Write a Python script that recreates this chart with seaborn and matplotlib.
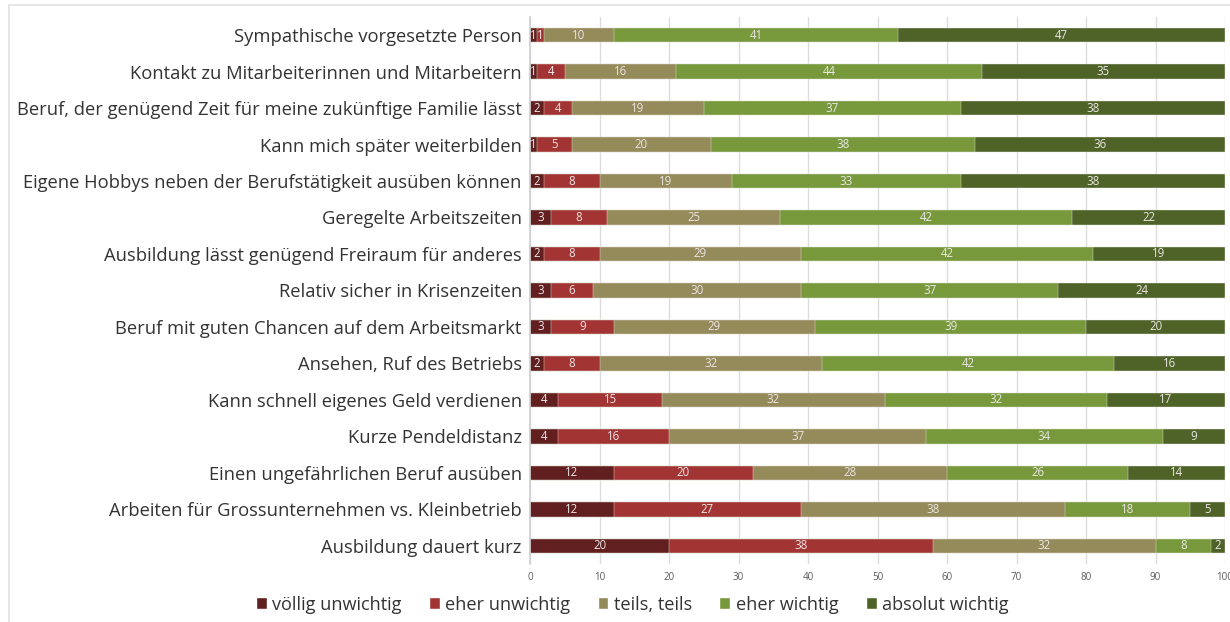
import numpy as np
import pandas as pd
import matplotlib
matplotlib.use("Agg")
import matplotlib.pyplot as plt
import seaborn as sns
from matplotlib.patches import Patch, Rectangle

categories = [
    "Sympathische vorgesetzte Person",
    "Kontakt zu Mitarbeiterinnen und Mitarbeitern",
    "Beruf, der genügend Zeit für meine zukünftige Familie lässt",
    "Kann mich später weiterbilden",
    "Eigene Hobbys neben der Berufstätigkeit ausüben können",
    "Geregelte Arbeitszeiten",
    "Ausbildung lässt genügend Freiraum für anderes",
    "Relativ sicher in Krisenzeiten",
    "Beruf mit guten Chancen auf dem Arbeitsmarkt",
    "Ansehen, Ruf des Betriebs",
    "Kann schnell eigenes Geld verdienen",
    "Kurze Pendeldistanz",
    "Einen ungefährlichen Beruf ausüben",
    "Arbeiten für Grossunternehmen vs. Kleinbetrieb",
    "Ausbildung dauert kurz",
]

levels = ["völlig unwichtig", "eher unwichtig", "teils, teils", "eher wichtig", "absolut wichtig"]

voellig_unwichtig = [1, 1, 2, 1, 2, 3, 2, 3, 3, 2, 4, 4, 12, 12, 20]
eher_unwichtig = [1, 4, 4, 5, 8, 8, 8, 6, 9, 8, 15, 16, 20, 27, 38]
teils_teils = [10, 16, 19, 20, 19, 25, 29, 30, 29, 32, 32, 37, 28, 38, 32]
eher_wichtig = [41, 44, 37, 38, 33, 42, 42, 37, 39, 42, 32, 34, 26, 18, 8]
absolut_wichtig = [47, 35, 38, 36, 38, 22, 19, 24, 20, 16, 17, 9, 14, 5, 2]

colors = ["#61201f", "#a33434", "#958a5a", "#77993c", "#4f6228"]

df = pd.DataFrame({
    "Kategorie": categories,
    levels[0]: voellig_unwichtig,
    levels[1]: eher_unwichtig,
    levels[2]: teils_teils,
    levels[3]: eher_wichtig,
    levels[4]: absolut_wichtig,
})
cum = df[levels].cumsum(axis=1)

sns.set_theme(style="white")
plt.rcParams["font.family"] = ["Open Sans", "DejaVu Sans"]

fig = plt.figure(figsize=(12.3, 6.22), dpi=100)
ax = fig.add_axes([0.431, 0.093, 0.565, 0.88])

# stacked bars: draw cumulative totals from the largest down
for i in range(len(levels) - 1, -1, -1):
    sns.barplot(x=cum[levels[i]], y=df["Kategorie"], color=colors[i],
                width=0.4, saturation=1, ax=ax, orient="h", zorder=3,
                edgecolor="#e8e8e0", linewidth=0.3)

for r, cat in enumerate(categories):
    left = 0
    for i, lv in enumerate(levels):
        v = df.loc[r, lv]
        ax.text(left + v / 2, r, str(v), ha="center", va="center",
                fontsize=8.3, color="#ece6e6", zorder=4)
        left += v

ax.set_xlim(0, 100)
ax.set_xticks(np.arange(0, 101, 10))
ax.tick_params(axis="x", labelsize=7, colors="#595959", length=0, pad=6)
ax.tick_params(axis="y", labelsize=13.2, colors="#333333", length=0, pad=6)
ax.set_xlabel("")
ax.set_ylabel("")
ax.xaxis.grid(True, color="#dcdcdc", linewidth=1, zorder=0)
ax.set_axisbelow(True)
for s in ["top", "right", "bottom"]:
    ax.spines[s].set_visible(False)
ax.spines["left"].set_color("#d0d0d0")
ax.spines["left"].set_zorder(5)

handles = [Patch(facecolor=c, label=l) for c, l in zip(colors, levels)]
fig.legend(handles=handles, loc="center", bbox_to_anchor=(0.514, 0.028), ncol=5,
           frameon=False, fontsize=13.1, handlelength=0.6, handleheight=0.6,
           handletextpad=0.3, columnspacing=1.5, labelcolor="#333333")

fig.patches.append(Rectangle((9 / 1230, -0.1), 1.2, 1 - 5 / 622 + 0.1,
                             transform=fig.transFigure, fill=False,
                             edgecolor="#e2e2e2", linewidth=1.2))

fig.savefig("out.png", dpi=100)
